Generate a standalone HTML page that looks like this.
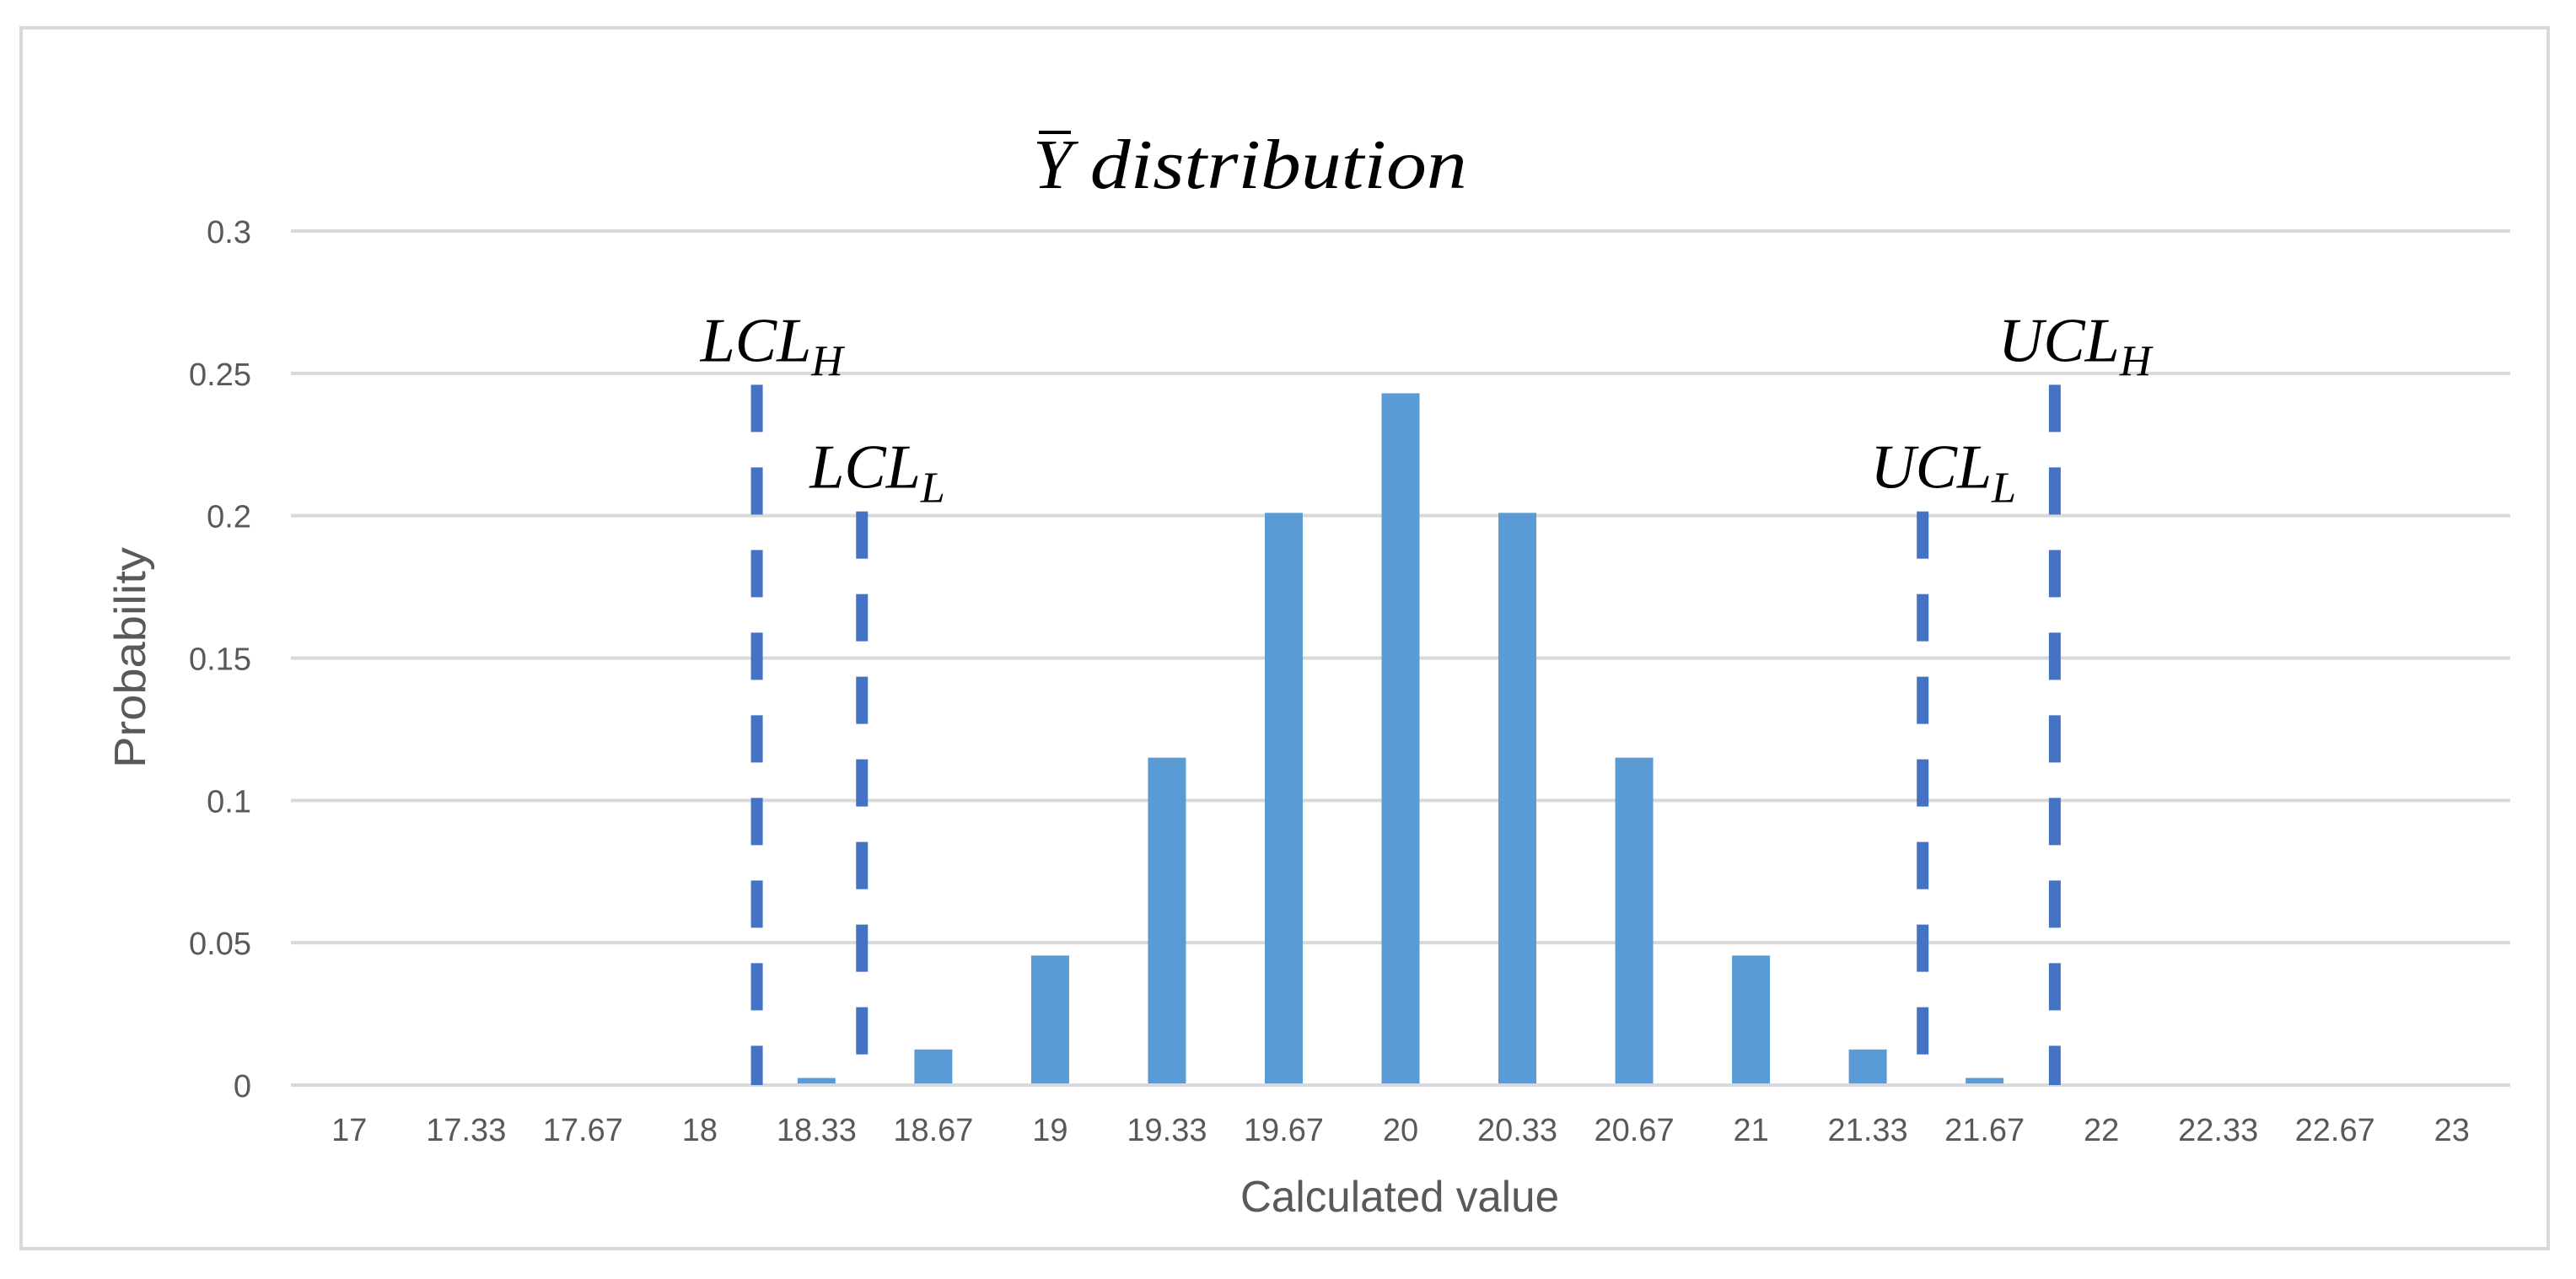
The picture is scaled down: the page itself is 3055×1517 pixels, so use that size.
<!DOCTYPE html>
<html><head><meta charset="utf-8"><style>
html,body{margin:0;padding:0;background:#fff}
svg{display:block}
</style></head><body>
<svg id="chart" width="3055" height="1517" viewBox="0 0 3055 1517" xmlns="http://www.w3.org/2000/svg">
<rect x="25" y="33" width="2997" height="1448" fill="#fff" stroke="#d9d9d9" stroke-width="4"/>
<g id="grid"></g>
<g id="bars"></g>
<g id="limits"></g>
<g id="ylabels"></g>
<g id="xlabels"></g>
<line x1="1232" x2="1270" y1="157" y2="157" stroke="#000" stroke-width="4"/>
<text x="1225" y="223" font-family="'Liberation Serif',serif" font-style="italic" font-size="84" fill="#000">Y <tspan textLength="447" lengthAdjust="spacingAndGlyphs">distribution</tspan></text>
<text x="1660" y="1437" text-anchor="middle" font-family="'Liberation Sans',sans-serif" font-size="52" fill="#595959" textLength="378" lengthAdjust="spacingAndGlyphs">Calculated value</text>
<text transform="translate(172,780) rotate(-90)" text-anchor="middle" font-family="'Liberation Sans',sans-serif" font-size="52" fill="#595959" textLength="262" lengthAdjust="spacingAndGlyphs">Probability</text>
</svg>
<script>
const categories = ["17","17.33","17.67","18","18.33","18.67","19","19.33","19.67","20","20.33","20.67","21","21.33","21.67","22","22.33","22.67","23"];
const probabilities = [0,0,0,0,0.0025,0.0125,0.0455,0.115,0.201,0.243,0.201,0.115,0.0455,0.0125,0.0025,0,0,0,0];
const yTicks = [0,0.05,0.1,0.15,0.2,0.25,0.3];
const yTickLabels = ["0","0.05","0.1","0.15","0.2","0.25","0.3"];
const limitNames = ["LCL","LCL","UCL","UCL"];
const limitSubs = ["H","L","L","H"];
const limitValues = [18.163,18.463,21.49,21.867];
const limitHeights = [0.246,0.2015,0.2015,0.246];

const NS="http://www.w3.org/2000/svg";
const L=345,R=2977,T=274,B=1287,yMax=0.3;
const bw=(R-L)/categories.length;
function yS(v){return B-(v/yMax)*(B-T);}
function xIdx(i){return L+bw*(i+0.5);}
function xVal(v){return xIdx((v-17)*3);}
function mk(tag,attrs,parent){const e=document.createElementNS(NS,tag);for(const k in attrs)e.setAttribute(k,attrs[k]);parent.appendChild(e);return e;}

const grid=document.getElementById('grid');
yTicks.forEach((t,i)=>{
  const g=mk('line',{x1:L,x2:R,y1:yS(t),y2:yS(t),stroke:'#d9d9d9','stroke-width':4},grid);
  
  
  const tx=mk('text',{x:298,y:yS(t)+14,'text-anchor':'end','font-family':"'Liberation Sans',sans-serif",'font-size':38,fill:'#595959'},document.getElementById('ylabels'));
  tx.textContent=yTickLabels[i];
  
  
});
const bars=document.getElementById('bars');
probabilities.forEach((p,i)=>{
  if(p<=0)return;
  const r=mk('rect',{x:xIdx(i)-22.5,y:yS(p),width:45,height:B-yS(p)-2,fill:'#5b9bd5'},bars);
  
  
});
categories.forEach((c,i)=>{
  const tx=mk('text',{x:xIdx(i),y:1353,'text-anchor':'middle','font-family':"'Liberation Sans',sans-serif",'font-size':38,fill:'#595959'},document.getElementById('xlabels'));
  tx.textContent=c;
  
  
});
const lim=document.getElementById('limits');
limitValues.forEach((v,i)=>{
  const x=xVal(v);
  const ln=mk('line',{x1:x,x2:x,y1:yS(limitHeights[i]),y2:B,stroke:'#4472c4','stroke-width':14,'stroke-dasharray':'56 42'},lim);
  
  
  const ty=yS(limitHeights[i])-28;
  const tx=mk('text',{x:limitSubs[i]==='H'?x-67:x-62,y:ty,'font-family':"'Liberation Serif',serif",'font-style':'italic','font-size':74,fill:'#000'},lim);
  
  
  const a=document.createElementNS(NS,'tspan');a.textContent=limitNames[i];tx.appendChild(a);
  const b=document.createElementNS(NS,'tspan');b.setAttribute('font-size','52');b.setAttribute('dy','17');b.textContent=limitSubs[i];tx.appendChild(b);
});
</script>
</body></html>
